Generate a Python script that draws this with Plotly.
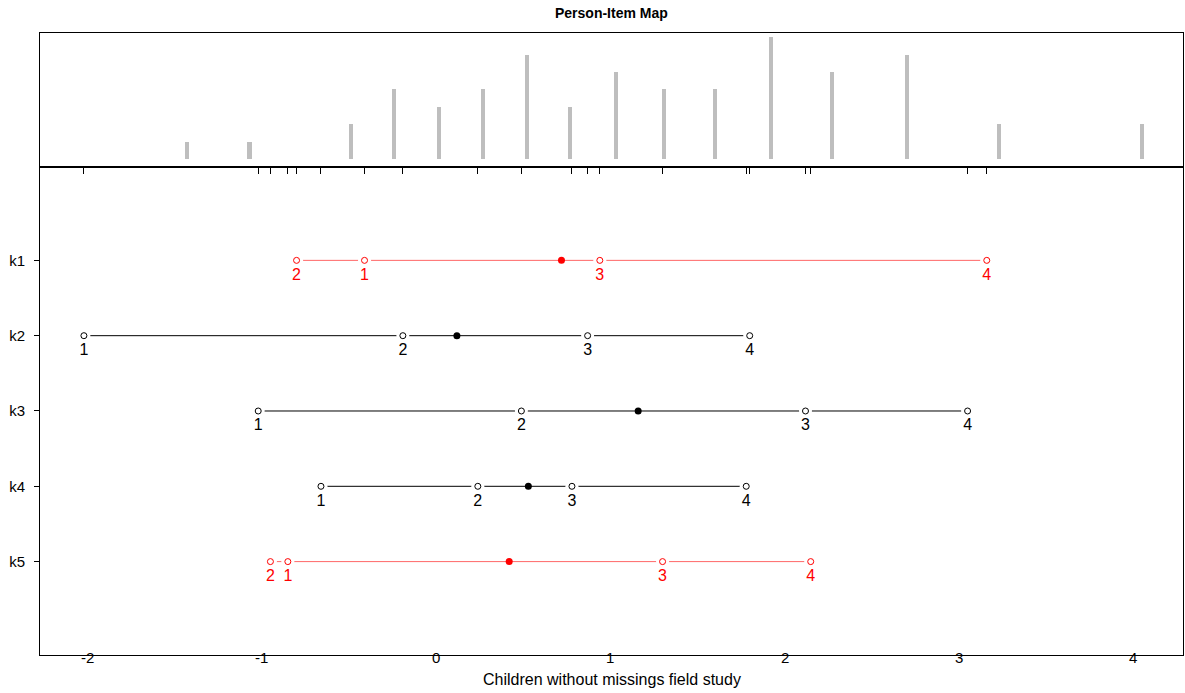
import plotly.graph_objects as go

# ---------------- data ----------------
items = ["k1", "k2", "k3", "k4", "k5"]
item_pos = [5, 4, 3, 2, 1]
# thresholds per item (threshold 1..4)
thresholds = {
    "k1": [-0.41, -0.80, 0.94, 3.16],
    "k2": [-2.02, -0.19, 0.87, 1.80],
    "k3": [-1.02, 0.49, 2.12, 3.05],
    "k4": [-0.66, 0.24, 0.78, 1.78],
    "k5": [-0.85, -0.95, 1.30, 2.15],
}
locations = [0.72, 0.12, 1.16, 0.53, 0.42]
disordered = [True, False, False, False, True]

# person parameter distribution
person_theta = [-1.43, -1.07, -0.49, -0.24, 0.02, 0.27, 0.52, 0.77,
                1.03, 1.31, 1.60, 1.92, 2.27, 2.70, 3.23, 4.05]
person_count = [1, 1, 2, 4, 3, 4, 6, 3, 5, 4, 4, 7, 5, 6, 2, 2]

x_ticks = [-2, -1, 0, 1, 2, 3, 4]
x_title = "Children without missings field study"
title = "Person-Item Map"

# ---------------- figure ----------------
FONT = "Liberation Sans, Arial, sans-serif"
xr = [-2.272, 4.286]
split = 0.7846

fig = go.Figure()

# histogram (top panel)
fig.add_trace(go.Bar(
    x=person_theta, y=person_count, width=0.023,
    marker=dict(color="#BEBEBE", line=dict(width=0)),
    xaxis="x2", yaxis="y2", hoverinfo="skip", showlegend=False))

all_thr = []
for i, it in enumerate(items):
    thr = thresholds[it]
    all_thr += thr
    y = item_pos[i]
    col = "#FF0000" if disordered[i] else "#000000"
    lcol = "rgba(255,0,0,0.6)" if disordered[i] else "#000000"
    srt = sorted(thr)
    # connecting line
    fig.add_trace(go.Scatter(
        x=[srt[0], srt[-1]], y=[y, y], mode="lines",
        line=dict(color=lcol, width=1), hoverinfo="skip", showlegend=False))
    # white gaps around threshold points
    fig.add_trace(go.Scatter(
        x=thr, y=[y] * len(thr), mode="markers",
        marker=dict(color="white", size=13, line=dict(width=0)),
        hoverinfo="skip", showlegend=False))
    # location (filled)
    fig.add_trace(go.Scatter(
        x=[locations[i]], y=[y], mode="markers",
        marker=dict(color=col, size=7, line=dict(width=0)),
        hoverinfo="skip", showlegend=False))
    # open circles
    fig.add_trace(go.Scatter(
        x=thr, y=[y] * len(thr), mode="markers",
        marker=dict(color="white", size=6, line=dict(color=col, width=1)),
        hoverinfo="skip", showlegend=False))
    # threshold numbers
    fig.add_trace(go.Scatter(
        x=thr, y=[y] * len(thr), mode="markers+text",
        text=[str(k + 1) for k in range(len(thr))],
        textposition="bottom center",
        textfont=dict(color=col, size=16, family=FONT),
        marker=dict(color="white", size=10, opacity=0),
        hoverinfo="skip", showlegend=False))

annotations = []
for t in x_ticks:
    annotations.append(dict(
        x=t, xref="x", y=0, yref="paper", yanchor="middle", yshift=-2,
        text=str(t), showarrow=False, font=dict(size=15, color="black", family=FONT)))
annotations.append(dict(
    x=0.5, xref="paper", y=0, yref="paper", yanchor="middle", yshift=-24,
    text=x_title, showarrow=False, font=dict(size=16, color="black", family=FONT)))
annotations.append(dict(
    x=0.5, xref="paper", y=1, yref="paper", yanchor="middle", yshift=20,
    text="<b>" + title + "</b>", showarrow=False, borderpad=0,
    font=dict(size=14, color="black", family=FONT)))

fig.update_layout(
    width=1185, height=693,
    margin=dict(l=40, r=2, t=33, b=38, autoexpand=False),
    paper_bgcolor="white", plot_bgcolor="white",
    font=dict(family=FONT, color="black"),
    showlegend=False,
    bargap=0,
    xaxis=dict(range=xr, anchor="y", showticklabels=False, ticks="",
               showline=True, mirror=True, linecolor="black", linewidth=1,
               showgrid=False, zeroline=False),
    yaxis=dict(domain=[0, split], range=[-0.24, 6.24], anchor="x",
               tickmode="array", tickvals=item_pos, ticktext=items,
               ticks="outside", ticklen=5, tickcolor="black", tickwidth=1,
               ticklabelstandoff=6, tickfont=dict(size=15),
               showline=True, mirror=True, linecolor="black", linewidth=1,
               showgrid=False, zeroline=False, automargin=False),
    xaxis2=dict(range=xr, anchor="y2", matches="x", showticklabels=False,
                tickmode="array", tickvals=all_thr, ticks="outside", ticklen=6,
                tickcolor="black", tickwidth=1,
                showline=True, mirror=True, linecolor="black", linewidth=1,
                showgrid=False, zeroline=False),
    yaxis2=dict(domain=[split, 1], range=[-0.43, 7.23], anchor="x2",
                showticklabels=False, ticks="",
                showline=True, mirror=True, linecolor="black", linewidth=1,
                showgrid=False, zeroline=False),
    annotations=annotations,
)

fig.write_html("out.html",
               config={"displayModeBar": False},
               post_script="document.body.style.margin='0px';"
                           "document.body.style.overflow='hidden';")
